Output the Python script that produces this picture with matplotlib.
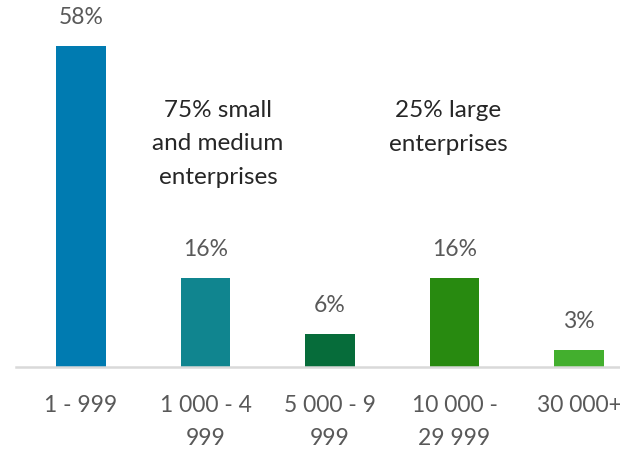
import matplotlib.pyplot as plt
import numpy as np

# Share of companies by employee count band
categories = ["1 - 999", "1 000 - 4\n999", "5 000 - 9\n999", "10 000 -\n29 999", "30 000+"]
shares = [58, 16, 6, 16, 3]
bar_colors = ["#007BB1", "#10858F", "#066C3A", "#288A10", "#43AF2E"]

plt.rcParams["font.family"] = ["Lato", "DejaVu Sans"]

fig = plt.figure(figsize=(6.2, 4.5), dpi=100)
# axes runs a little past the right edge, like the original slide
ax = fig.add_axes([16 / 620, 83 / 450, 622.5 / 620, 367 / 450])

x = np.arange(len(categories))
ax.bar(x, shares, width=0.4, color=bar_colors, zorder=2)

for xi, val in zip(x, shares):
    ax.annotate(f"{val}%", (xi, val), xytext=(0, 13), textcoords="offset points",
                ha="center", va="bottom", fontsize=16.5, color="#595959")

ax.set_xlim(-0.522, 4.478)
ax.set_ylim(0, 66.3)

ax.set_xticks(x)
ax.set_xticklabels(categories, fontsize=16.5, color="#595959", linespacing=1.72)
ax.tick_params(axis="x", length=0, pad=20)
ax.set_yticks([])

for side in ["top", "right", "left"]:
    ax.spines[side].set_visible(False)
ax.spines["bottom"].set_color("#D9D9D9")
ax.spines["bottom"].set_linewidth(1.8)

ax.text(1.1, 40.3, "75% small\nand medium\nenterprises", ha="center", va="center",
        fontsize=17.5, color="#262626", linespacing=1.75)
ax.text(2.95, 43.3, "25% large\nenterprises", ha="center", va="center",
        fontsize=17.5, color="#262626", linespacing=1.75)

fig.savefig("out.png", dpi=100)
